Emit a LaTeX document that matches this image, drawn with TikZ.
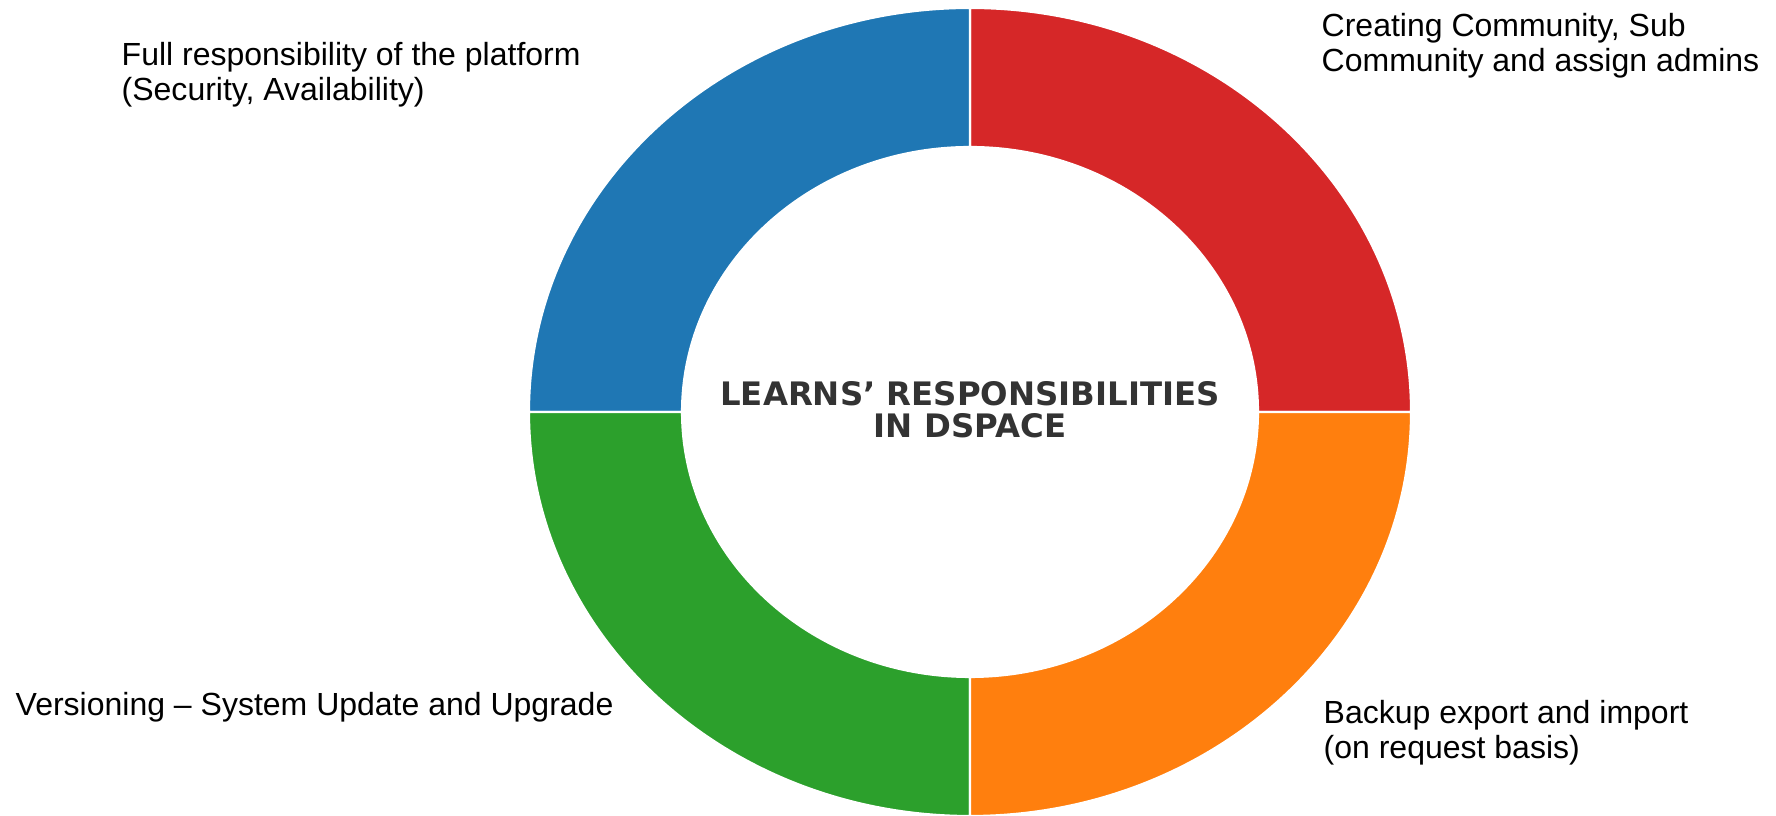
\documentclass[tikz,border=0pt]{standalone}
\usepackage{fontspec}
\setmainfont{Liberation Sans}
\newfontfamily\titlefont{DejaVu Sans}
\usetikzlibrary{calc}
\definecolor{ringblue}{HTML}{1F77B4}
\definecolor{ringred}{HTML}{D62728}
\definecolor{ringgreen}{HTML}{2CA02C}
\definecolor{ringorange}{HTML}{FF7F0E}
\definecolor{titlegray}{HTML}{333333}
\tikzset{
	wedge/.style={draw=white, line width=0.6pt},
	duty/.style={anchor=base west, align=left, inner sep=0pt, font=\fontsize{9.1}{10}\selectfont},
	ringtitle/.style={anchor=base, align=center, inner sep=0pt, text=titlegray, font=\titlefont\bfseries\fontsize{9.2}{9.2}\selectfont}
}
\begin{document}
\begin{tikzpicture}[x=0.01cm, y=0.01cm]
			\useasboundingbox (0,0) rectangle (1776,816);
			\coordinate (c) at (970,404);
			\foreach \start/\col in {0/ringred, 90/ringblue, 180/ringgreen, 270/ringorange}{
				\filldraw [wedge, fill=\col] ($(c)+(\start:441 and 404)$) arc [start angle=\start, delta angle=90, x radius=441, y radius=404] -- ($(c)+(\start+90:288 and 265)$) arc [start angle=\start+90, delta angle=-90, x radius=288, y radius=265] -- cycle;
			}
			\node [ringtitle] (title) at (970,378) {LEARNS’ RESPONSIBILITIES\\IN DSPACE};
			\node [duty] (platform) at (121,715) {Full responsibility of the platform\\(Security, Availability)};
			\node [duty] (community) at (1321,744) {Creating Community, Sub\\Community and assign admins};
			\node [duty] (versioning) at (15,100) {Versioning – System Update and Upgrade};
			\node [duty] (backup) at (1323,57) {Backup export and import\\(on request basis)};
		\end{tikzpicture}
\end{document}
